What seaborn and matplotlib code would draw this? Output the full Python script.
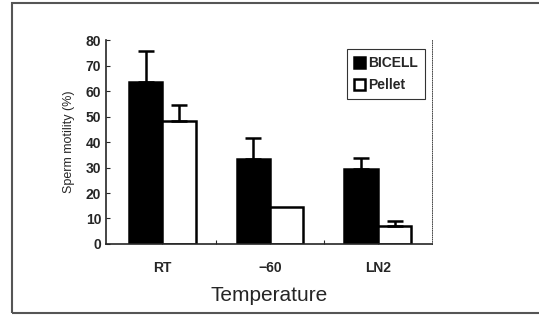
import pandas as pd
import matplotlib.pyplot as plt
import seaborn as sns

# ── Data ─────────────────────────────────────────────────────────────
temperatures = ["RT", "\u221260", "LN2"]
methods = ["BICELL", "Pellet"]
bicell_mean = [63.5, 33.3, 29.4]
bicell_sd = [12.2, 8.3, 4.3]
pellet_mean = [48.2, 14.7, 7.2]
pellet_sd = [6.3, 0.0, 1.8]

df = pd.DataFrame({
    "temp": temperatures * 2,
    "method": ["BICELL"] * 3 + ["Pellet"] * 3,
    "motility": bicell_mean + pellet_mean,
    "sd": bicell_sd + pellet_sd,
})

sns.set_style("ticks")
plt.rcParams["font.family"] = ["Liberation Sans", "DejaVu Sans"]

fig = plt.figure(figsize=(5.39, 3.21), dpi=100)
ax = fig.add_axes([0.197, 0.240, 0.604, 0.635])

sns.barplot(
    data=df, x="temp", y="motility", hue="method", order=temperatures,
    hue_order=methods, palette={"BICELL": "black", "Pellet": "white"},
    edgecolor="black", linewidth=1.8, width=0.62, errorbar=None, ax=ax,
)

# one-sided error bars on top of each bar (skip zero-sd bars)
for cont, m in zip(ax.containers, methods):
    sub = df[df["method"] == m].set_index("temp").loc[temperatures]
    xs = [p.get_x() + p.get_width() / 2 for p in cont.patches]
    for x, y, e in zip(xs, sub["motility"], sub["sd"]):
        if e > 0:
            ax.errorbar([x], [y], yerr=[[0], [e]], fmt="none", ecolor="black",
                        elinewidth=1.8, capsize=6, capthick=1.8, zorder=5)

ax.set_xlim(-0.52, 2.5)
ax.set_ylim(0, 80)
ax.set_yticks(range(0, 81, 10))
ax.set_xticks([0, 0.5, 1, 1.5, 2])
ax.set_xticklabels(["RT", "", "\u221260", "", "LN2"])
ax.tick_params(axis="x", direction="in", length=3, pad=12, labelsize=10)
ax.tick_params(axis="y", direction="in", length=3, labelsize=10)
for t in ax.get_xticklabels() + ax.get_yticklabels():
    t.set_fontweight("bold")

ax.set_xlabel("Temperature", fontsize=15, labelpad=8)
ax.set_ylabel("Sperm motility (%)", fontsize=9, labelpad=8)

ax.spines["top"].set_visible(False)
ax.spines["right"].set_linestyle(":")
ax.spines["right"].set_linewidth(0.6)
ax.spines["left"].set_linewidth(1.2)
ax.spines["bottom"].set_linewidth(1.2)

leg = ax.legend(loc="upper right", bbox_to_anchor=(1.0, 0.99), fontsize=10,
                frameon=True, fancybox=False, edgecolor="black",
                handlelength=0.8, handleheight=0.8, handletextpad=0.2,
                borderpad=0.5, labelspacing=0.6, title=None)
leg.get_frame().set_linewidth(0.8)
for t in leg.get_texts():
    t.set_fontweight("bold")

# outer frame of the scanned figure
fig.add_artist(plt.Rectangle((12 / 539, 8 / 321), 1.2, 310 / 321,
                             transform=fig.transFigure, fill=False,
                             edgecolor="#555555", linewidth=1.5))

plt.savefig("out.png", dpi=100)
plt.close()
